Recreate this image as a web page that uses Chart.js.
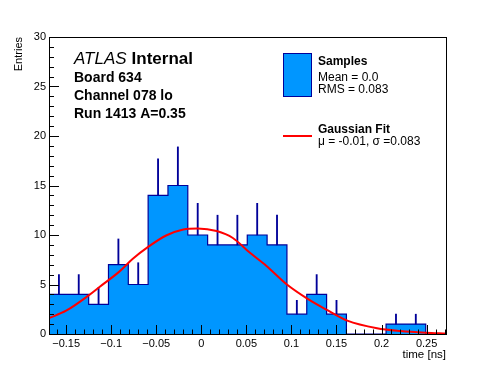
<!DOCTYPE html>
<html>

<head>
  <meta charset="utf-8">
  <title>Board 634 timing</title>
  <script src="https://cdn.jsdelivr.net/npm/chart.js"></script>
  <style>
    body { margin: 0; background: #fff; }
  </style>
</head>

<body>
  <canvas id="timeHist" width="496" height="372"></canvas>
  <script>
    // histogram binning (ns) and contents
    var binEdges = [-0.169, -0.147, -0.125, -0.103, -0.081, -0.059, -0.037, -0.015, 0.007, 0.029, 0.051,
      0.073, 0.095, 0.117, 0.139, 0.161, 0.183, 0.205, 0.227, 0.249, 0.271];
    var counts = [4, 4, 3, 7, 5, 14, 15, 10, 9, 9, 10, 9, 2, 4, 2, 0, 0, 1, 1, 0];
    var errUp = [2, 2, 1.7, 2.6, 2.2, 3.7, 3.9, 3.2, 3, 3, 3.2, 3, 1.4, 2, 1.4, 0, 0, 1, 1, 0];

    // gaussian fit curve
    var fitX = [-0.169, -0.15, -0.125, -0.113, -0.091, -0.076, -0.059, -0.039, -0.02, -0.004, 0.017,
      0.035, 0.054, 0.072, 0.095, 0.118, 0.14, 0.162, 0.195, 0.221, 0.249, 0.2715];
    var fitY = [1.6, 2.35, 3.9, 4.75, 6.3, 7.6, 8.8, 9.95, 10.55, 10.66, 10.4,
      9.7, 8.2, 6.9, 5.0, 3.55, 2.4, 1.35, 0.58, 0.3, 0.13, 0.05];

    // axis range and labels
    var xRange = [-0.169, 0.2715];
    var yRange = [0, 30];
    var xTickValues = [-0.15, -0.1, -0.05, 0, 0.05, 0.1, 0.15, 0.2, 0.25];
    var xTickLabels = ['\u22120.15', '\u22120.1', '\u22120.05', '0', '0.05', '0.1', '0.15', '0.2', '0.25'];
    var yTickValues = [0, 5, 10, 15, 20, 25, 30];
    var yTickLabels = ['0', '5', '10', '15', '20', '25', '30'];

    var sampleStats = ['Mean = 0.0', 'RMS = 0.083'];
    var fitStats = ['\u03bc = -0.01, \u03c3 =0.083'];
    var infoLines = ['Board 634', 'Channel 078 lo', 'Run 1413 A=0.35'];

    var FONT = '"Liberation Sans", Arial, sans-serif';
    var FILL = 'rgb(0,150,255)';
    var NAVY = '#000099';

    Chart.defaults.font.family = FONT;
    Chart.defaults.color = '#000';

    function labelFor(values, labels, v) {
      for (var i = 0; i < values.length; i++) {
        if (Math.abs(values[i] - v) < 1e-6) return labels[i];
      }
      return '';
    }

    // step outline: one point per lower edge, last point closes at zero
    var histPoints = binEdges.map(function (e, i) {
      return { x: e, y: i < counts.length ? counts[i] : 0 };
    });
    var errPoints = [];
    counts.forEach(function (c, i) {
      if (errUp[i] > 0) {
        errPoints.push({ x: (binEdges[i] + binEdges[i + 1]) / 2, y: [c, c + errUp[i]] });
      }
    });
    var fitPoints = fitX.map(function (x, i) { return { x: x, y: fitY[i] }; });

    // inside ticks, frame, text and legend in ROOT style
    var rootStyle = {
      id: 'rootStyle',
      afterDatasetsDraw: function (chart) {
        var ctx = chart.ctx, a = chart.chartArea;
        var xs = chart.scales.x, ys = chart.scales.y;
        ctx.save();
        ctx.strokeStyle = '#000';
        ctx.lineWidth = 1;
        ctx.beginPath();
        xs.ticks.forEach(function (t) {
          var px = Math.round(xs.getPixelForValue(t.value)) + 0.5;
          ctx.moveTo(px, a.bottom);
          ctx.lineTo(px, a.bottom - (t.label ? 9 : 4.5));
        });
        ys.ticks.forEach(function (t) {
          var py = Math.round(ys.getPixelForValue(t.value)) + 0.5;
          ctx.moveTo(a.left, py);
          ctx.lineTo(a.left + (t.label ? 10 : 5), py);
        });
        ctx.stroke();
        ctx.strokeRect(a.left + 0.5, a.top + 0.5, a.right - a.left, a.bottom - a.top);
        ctx.restore();
      },
      afterDraw: function (chart) {
        var ctx = chart.ctx;
        var ds = chart.data.datasets;
        ctx.save();
        ctx.fillStyle = '#000';
        ctx.textBaseline = 'alphabetic';
        ctx.textAlign = 'left';

        ctx.font = 'italic 17px ' + FONT;
        ctx.fillText('ATLAS', 74, 63.5);
        var w = ctx.measureText('ATLAS').width;
        ctx.font = 'bold 17px ' + FONT;
        ctx.fillText('Internal', 74 + w + 5, 63.5);

        ctx.font = 'bold 14px ' + FONT;
        infoLines.forEach(function (s, i) {
          ctx.fillText(s, 74, 81.7 + i * 18.3);
        });

        // legend
        ctx.fillStyle = ds[0].backgroundColor;
        ctx.fillRect(283, 53, 29, 44);
        ctx.strokeStyle = ds[0].borderColor;
        ctx.lineWidth = 1;
        ctx.strokeRect(283.5, 53.5, 28, 43);
        ctx.strokeStyle = ds[2].borderColor;
        ctx.lineWidth = 2;
        ctx.beginPath();
        ctx.moveTo(283, 136);
        ctx.lineTo(312, 136);
        ctx.stroke();

        ctx.fillStyle = '#000';
        ctx.font = 'bold 12px ' + FONT;
        ctx.fillText(ds[0].label, 318, 65.3);
        ctx.fillText(ds[2].label, 318, 132.7);
        ctx.font = '12px ' + FONT;
        sampleStats.forEach(function (s, i) {
          ctx.fillText(s, 318, 81 + i * 12.3);
        });
        ctx.fillText(fitStats[0], 318, 145);
        ctx.restore();
      }
    };

    var chart = new Chart(document.getElementById('timeHist'), {
      type: 'line',
      data: {
        datasets: [
          {
            label: 'Samples',
            data: histPoints,
            stepped: 'before',
            fill: 'origin',
            backgroundColor: FILL,
            borderColor: NAVY,
            borderWidth: 1.2,
            pointRadius: 0,
            order: 3
          },
          {
            type: 'bar',
            label: 'errors',
            data: errPoints,
            backgroundColor: NAVY,
            borderWidth: 0,
            barThickness: 1.2,
            order: 2
          },
          {
            label: 'Gaussian Fit',
            data: fitPoints,
            borderColor: '#ff0000',
            borderWidth: 2,
            pointRadius: 0,
            fill: false,
            cubicInterpolationMode: 'monotone',
            order: 1
          }
        ]
      },
      options: {
        responsive: false,
        animation: false,
        devicePixelRatio: 1,
        layout: { padding: { top: 37, right: 50, left: 0, bottom: 0 } },
        plugins: {
          legend: { display: false },
          tooltip: { enabled: false }
        },
        scales: {
          x: {
            type: 'linear',
            min: xRange[0],
            max: xRange[1],
            bounds: 'ticks',
            offset: false,
            grid: { display: false, drawTicks: false, offset: false },
            border: { display: false },
            ticks: {
              stepSize: 0.01,
              includeBounds: false,
              autoSkip: false,
              maxRotation: 0,
              padding: 3,
              font: { size: 11 },
              callback: function (v) { return labelFor(xTickValues, xTickLabels, v); }
            },
            title: {
              display: true,
              text: 'time [ns]',
              align: 'end',
              font: { size: 11.5 },
              padding: { top: 0, bottom: 10 }
            },
            afterFit: function (scale) { scale.height = 38; }
          },
          y: {
            min: yRange[0],
            max: yRange[1],
            grid: { display: false, drawTicks: false },
            border: { display: false },
            ticks: {
              stepSize: 1,
              autoSkip: false,
              padding: 3,
              font: { size: 11 },
              callback: function (v) { return labelFor(yTickValues, yTickLabels, v); }
            },
            title: {
              display: true,
              text: 'Entries',
              align: 'end',
              font: { size: 11 },
              padding: { top: 12.5, bottom: 0 }
            },
            afterFit: function (scale) { scale.width = 49; }
          }
        }
      },
      plugins: [rootStyle]
    });
  </script>
</body>

</html>
